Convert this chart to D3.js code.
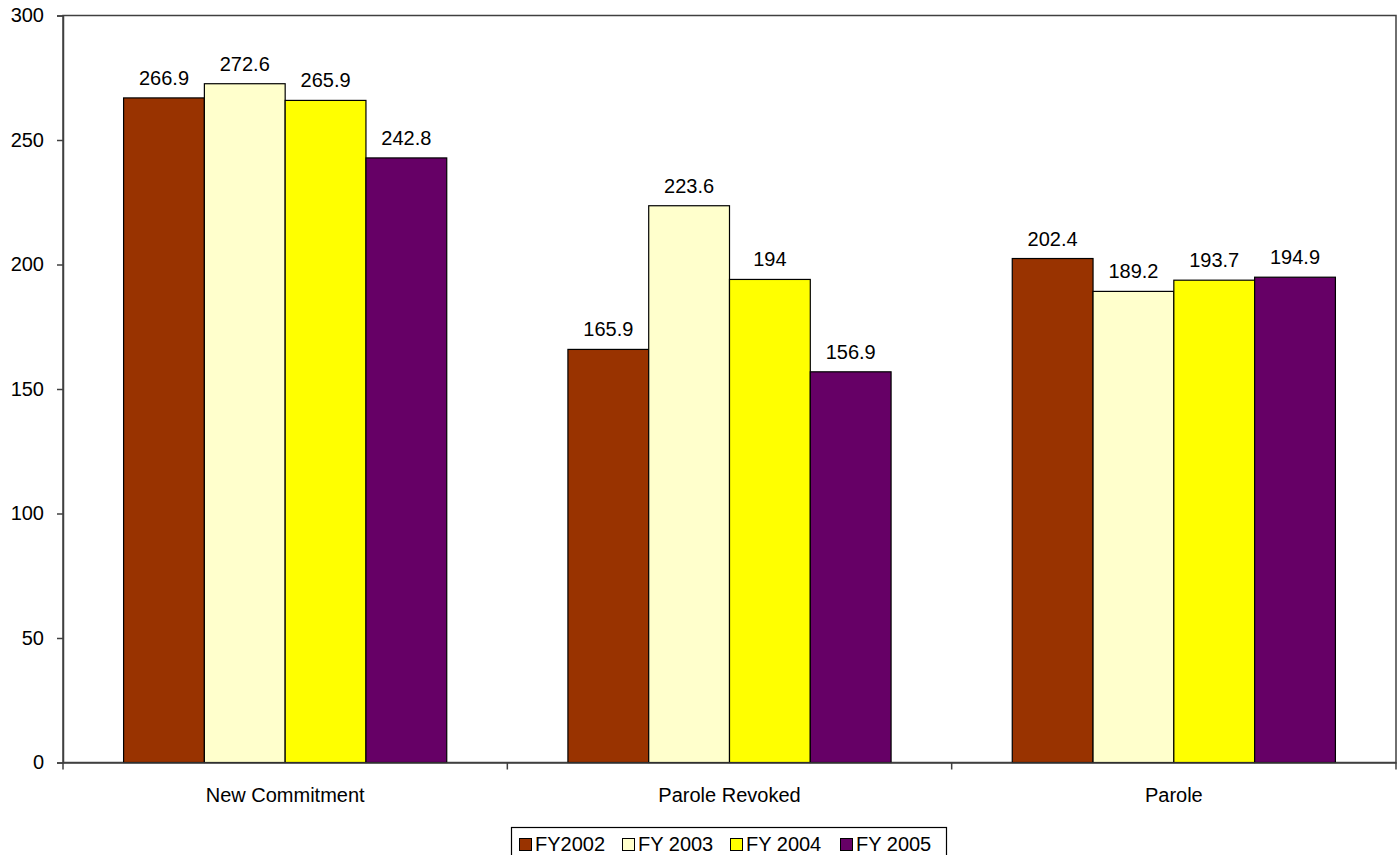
<!DOCTYPE html>
<html>
<head>
<meta charset="utf-8">
<script src="https://cdn.jsdelivr.net/npm/d3@7"></script>
<style>
  body { margin: 0; background: #fff; }
  svg { display: block; font-family: "Liberation Sans", Arial, sans-serif; }
</style>
</head>
<body>
<svg id="chart" width="1400" height="855"></svg>
<script>
var categories = ["New Commitment", "Parole Revoked", "Parole"];
var series = ["FY2002", "FY 2003", "FY 2004", "FY 2005"];
var colors = ["#993300", "#FFFFCC", "#FFFF00", "#660066"];
var fy2002 = [266.9, 165.9, 202.4];
var fy2003 = [272.6, 223.6, 189.2];
var fy2004 = [265.9, 194, 193.7];
var fy2005 = [242.8, 156.9, 194.9];
var yTicks = [0, 50, 100, 150, 200, 250, 300];

var values = [fy2002, fy2003, fy2004, fy2005];

var svg = d3.select("#chart");
var plotLeft = 63, plotRight = 1396, plotTop = 15.5, plotBottom = 762.5;
var fontSize = 20;

var x0 = d3.scaleBand().domain(categories).range([plotLeft, plotRight]).padding(0);
var x1 = d3.scaleBand().domain(series).range([0, x0.bandwidth()]).paddingInner(0).paddingOuter(0.75);
var y = d3.scaleLinear().domain([0, 300]).range([plotBottom, plotTop]);

// plot frame
svg.append("rect").attr("x", plotLeft).attr("y", plotTop)
	.attr("width", plotRight - plotLeft).attr("height", plotBottom - plotTop)
	.attr("fill", "none").attr("stroke", "#404040").attr("stroke-width", 1.5);

// bars
var groups = svg.append("g");
series.forEach(function(s, i) {
	categories.forEach(function(c, j) {
		var v = values[i][j];
		var bx = x0(c) + x1(s);
		groups.append("rect")
			.attr("x", bx).attr("y", y(v))
			.attr("width", x1.bandwidth()).attr("height", y(0) - y(v))
			.attr("fill", colors[i]).attr("stroke", "#000").attr("stroke-width", 1.2);
		groups.append("text")
			.attr("x", bx + x1.bandwidth() / 2).attr("y", y(v) - 13)
			.attr("text-anchor", "middle").attr("font-size", fontSize)
			.attr("fill", "#000").text(v);
	});
});

// y axis
var yAxis = svg.append("g").attr("transform", "translate(" + plotLeft + ",0)")
	.call(d3.axisLeft(y).tickValues(yTicks).tickSize(6).tickPadding(13));
yAxis.selectAll("path, line").attr("stroke", "#404040").attr("stroke-width", 1.5);
yAxis.selectAll("text").attr("font-size", fontSize).attr("fill", "#000")
	.attr("font-family", "Liberation Sans, Arial, sans-serif");

// x axis
var xAxis = svg.append("g").attr("transform", "translate(0," + plotBottom + ")")
	.call(d3.axisBottom(x0).tickSize(0).tickPadding(25));
xAxis.select(".domain").attr("stroke", "#404040").attr("stroke-width", 1.5);
xAxis.selectAll("text").attr("font-size", fontSize).attr("fill", "#000")
	.attr("font-family", "Liberation Sans, Arial, sans-serif");
var bounds = [plotLeft].concat(categories.map(function(c) { return x0(c) + x0.bandwidth(); }));
svg.append("g").selectAll("line").data(bounds).enter().append("line")
	.attr("x1", function(d) { return d; }).attr("x2", function(d) { return d; })
	.attr("y1", plotBottom).attr("y2", plotBottom + 7)
	.attr("stroke", "#404040").attr("stroke-width", 1.5);

// legend
var legend = svg.append("g");
legend.append("rect").attr("x", 511.5).attr("y", 827.5).attr("width", 435).attr("height", 40)
	.attr("fill", "#fff").attr("stroke", "#000").attr("stroke-width", 1.2);
var legendX = [519, 622, 730, 840];
series.forEach(function(s, i) {
	var item = legend.append("g").attr("transform", "translate(" + legendX[i] + ",0)");
	item.append("rect").attr("x", 0.5).attr("y", 838.5).attr("width", 12).attr("height", 12)
		.attr("fill", colors[i]).attr("stroke", "#000").attr("stroke-width", 1);
	item.append("text").attr("x", 16).attr("y", 851).attr("font-size", fontSize)
		.attr("fill", "#000").text(s);
});
</script>
</body>
</html>
